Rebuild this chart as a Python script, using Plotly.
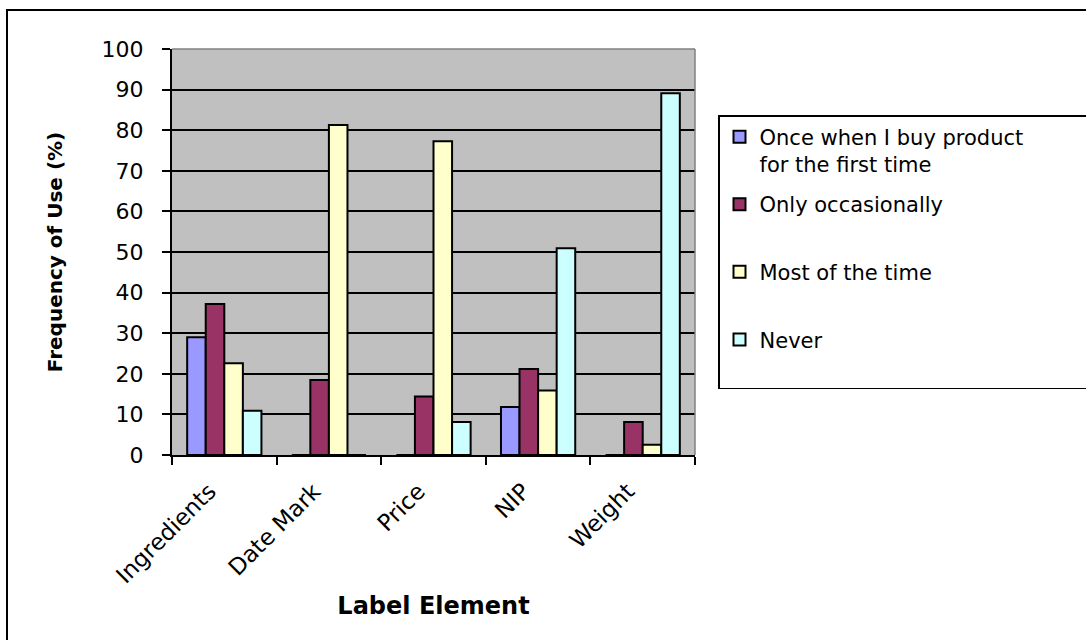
import plotly.graph_objects as go

# Survey: how often each food-label element is used
categories = ["Ingredients", "Date Mark", "Price", "NIP", "Weight"]

PAD = "\u00a0" * 9  # widens the legend box to the right edge
series_names = [
    "Once when I buy product" + PAD + "<br>for the first time",
    "Only occasionally<br>\u00a0",
    "Most of the time<br>\u00a0",
    "Never<br>\u00a0",
]
once_first_time = [29.0, 0, 0, 11.8, 0]
only_occasionally = [37.2, 18.5, 14.4, 21.2, 8.1]
most_of_the_time = [22.6, 81.3, 77.3, 15.9, 2.5]
never = [10.9, 0, 8.1, 50.9, 89.1]

series_values = [once_first_time, only_occasionally, most_of_the_time, never]
series_colors = ["#9999FF", "#993366", "#FFFFCC", "#CCFFFF"]

y_ticks = list(range(0, 101, 10))

FONT = "DejaVu Sans"

fig = go.Figure()
for i, (name, vals, col) in enumerate(zip(series_names, series_values, series_colors)):
    fig.add_trace(go.Bar(
        x=categories, y=vals, name=name,
        legendgroup=f"g{i}",
        marker=dict(color=col, line=dict(color="black", width=2)),
    ))

W, H = 1086, 640
L, R, T, B = 172, 391, 49, 185
pw, ph = W - L - R, H - T - B


def px_x(p):
    return (p - L) / pw


def px_y(p):
    return (H - B - p) / ph


fig.update_layout(
    width=W, height=H,
    margin=dict(l=L, r=R, t=T, b=B, autoexpand=False),
    paper_bgcolor="white",
    plot_bgcolor="#C0C0C0",
    barmode="group",
    bargap=0.29,
    bargroupgap=0,
    font=dict(family=FONT, color="black"),
    showlegend=True,
    legend=dict(
        x=px_x(718), y=px_y(115), xanchor="left", yanchor="top",
        bgcolor="white", bordercolor="black", borderwidth=1.5,
        font=dict(family=FONT, size=21, color="black"),
        valign="top", tracegroupgap=10,
        traceorder="grouped",
    ),
    xaxis=dict(
        type="category",
        tickson="boundaries",
        ticks="outside", ticklen=8, tickwidth=1.5, tickcolor="black",
        tickangle=-45,
        ticklabelstandoff=12,
        ticklabelshift=-15,
        tickfont=dict(family=FONT, size=23, color="black"),
        showline=True, linecolor="black", linewidth=1.5,
        showgrid=False,
        title=dict(text="<b>Label Element</b>",
                   font=dict(family=FONT, size=24, color="black"),
                   standoff=10),
    ),
    yaxis=dict(
        range=[0, 100],
        tickvals=y_ticks,
        ticks="outside", ticklen=8, tickwidth=1.5, tickcolor="black",
        ticklabelstandoff=14,
        tickfont=dict(family=FONT, size=22, color="black"),
        showline=True, linecolor="black", linewidth=2,
        showgrid=True, gridcolor="black", gridwidth=1.5,
        zeroline=False,
        title=dict(text="<b>Frequency of Use (%)</b>",
                   font=dict(family=FONT, size=20, color="black"),
                   standoff=34),
    ),
    shapes=[
        # outer chart frame (open at right and bottom edges)
        dict(type="rect", xref="paper", yref="paper",
             x0=px_x(7), x1=px_x(1100), y0=px_y(660), y1=px_y(10),
             line=dict(color="black", width=2), layer="below"),
        # grey plot-area border on top and right
        dict(type="line", xref="paper", yref="paper", x0=0, x1=1, y0=1, y1=1,
             line=dict(color="#808080", width=1.5), layer="above"),
        dict(type="line", xref="paper", yref="paper", x0=1, x1=1, y0=0, y1=1,
             line=dict(color="#808080", width=1.5), layer="above"),
    ],
)

fig.write_html("out.html")
